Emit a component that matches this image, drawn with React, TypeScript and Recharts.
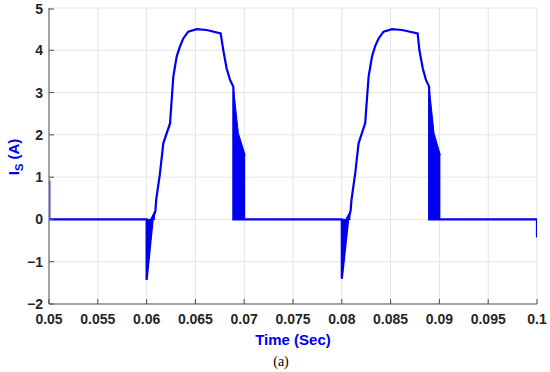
import React from "react";
import { ComposedChart, Line, Area, XAxis, YAxis, CartesianGrid, Label } from "recharts";

// time (s), source current (A)
const firstCycle: [number, number][] = [
  [0.05003, 0.92], [0.05003, 0], [0.06, 0], [0.06, -1.43], [0.06062, 0], [0.0609, 0.2],
  [0.06098, 0.46], [0.06137, 1.09], [0.06171, 1.8], [0.0624, 2.27], [0.06257, 2.83],
  [0.06274, 3.38], [0.06308, 3.85], [0.06342, 4.09], [0.06376, 4.28], [0.06427, 4.44],
  [0.06513, 4.5], [0.06616, 4.48], [0.06759, 4.4], [0.06786, 4.0], [0.0682, 3.57],
  [0.06855, 3.3], [0.06889, 3.14], [0.06889, 0],
];

const secondCycle: [number, number][] = [
  [0.08, 0], [0.08, -1.4], [0.08065, 0], [0.0809, 0.2], [0.08099, 0.46],
  [0.08138, 1.1], [0.08172, 1.8], [0.0824, 2.28], [0.08257, 2.83], [0.08275, 3.38],
  [0.08309, 3.85], [0.08342, 4.1], [0.08377, 4.28], [0.08428, 4.44], [0.08515, 4.5],
  [0.08617, 4.48], [0.08777, 4.4], [0.08795, 4.0], [0.0883, 3.57], [0.08862, 3.3],
  [0.08895, 3.14], [0.08895, 0], [0.1, 0], [0.1, -0.43],
];

// switching envelopes: time, [low, high]
const spikeOne: [number, [number, number]][] = [[0.06, [-1.43, 0]], [0.06062, [0, 0]]];
const rippleOne: [number, [number, number]][] = [[0.0604, [0, 0]], [0.06085, [0, 0.2]]];
const chopOne: [number, [number, number]][] = [[0.06889, [0, 3.14]], [0.0694, [0, 2.04]], [0.0701, [0, 1.52]]];
const spikeTwo: [number, [number, number]][] = [[0.08, [-1.4, 0]], [0.08065, [0, 0]]];
const rippleTwo: [number, [number, number]][] = [[0.0804, [0, 0]], [0.08088, [0, 0.2]]];
const chopTwo: [number, [number, number]][] = [[0.08895, [0, 3.14]], [0.08945, [0, 2.04]], [0.0901, [0, 1.52]]];

const timeTicks = [0.05, 0.055, 0.06, 0.065, 0.07, 0.075, 0.08, 0.085, 0.09, 0.095, 0.1];
const currentTicks = [-2, -1, 0, 1, 2, 3, 4, 5];

const BLUE = "#0000f0";
const TEXT = "#262626";

const trace = [...firstCycle, [0.07, 0] as [number, number], ...secondCycle].map(([t, v]) => ({ t, v }));
const bands = [spikeOne, rippleOne, chopOne, spikeTwo, rippleTwo, chopTwo].map((b) =>
  b.map(([t, r]) => ({ t, r }))
);

const BottomTick = (props: any) => {
  const { x, y, payload } = props;
  return (
    <g>
      <line x1={x} x2={x} y1={y} y2={y - 5} stroke="#4d4d4d" />
      <text x={x} y={y + 20} textAnchor="middle" fill={TEXT} fontSize={14} fontWeight="bold"
        fontFamily="'Liberation Sans', Arial, sans-serif">{String(payload.value)}</text>
    </g>
  );
};

const LeftTick = (props: any) => {
  const { x, y, payload } = props;
  return (
    <g>
      <line x1={x} x2={x + 5} y1={y} y2={y} stroke="#4d4d4d" />
      <text x={x - 6} y={y + 5} textAnchor="end" fill={TEXT} fontSize={14} fontWeight="bold"
        fontFamily="'Liberation Sans', Arial, sans-serif">{payload.value < 0 ? "\u2212" + Math.abs(payload.value) : payload.value}</text>
    </g>
  );
};

const TopTick = (props: any) => {
  const { x, y } = props;
  return <line x1={x} x2={x} y1={y} y2={y + 5} stroke="#4d4d4d" />;
};

const RightTick = (props: any) => {
  const { x, y } = props;
  return <line x1={x} x2={x - 5} y1={y} y2={y} stroke="#4d4d4d" />;
};

export default function App() {
  return (
    <div style={{ position: "absolute", left: 0, top: 0, width: 550, height: 372, background: "#fff" }}>
      <ComposedChart width={550} height={372} margin={{ top: 8, right: 13, left: 0, bottom: 0 }}>
        <CartesianGrid stroke="#e4e4e4" strokeWidth={1} />
        <XAxis xAxisId={0} dataKey="t" type="number" domain={[0.05, 0.1]} ticks={timeTicks}
          allowDataOverflow height={68} tickSize={0} tickMargin={0} tick={<BottomTick />}
          axisLine={{ stroke: "#8a8a8a", strokeWidth: 1.5 }} tickLine={false}>
          <Label content={(p: any) => {
            const vb = p.viewBox;
            return (
              <text x={vb.x + vb.width / 2} y={vb.y + 41} textAnchor="middle" fill={BLUE}
                fontSize={15} fontWeight="bold" fontFamily="'Liberation Sans', Arial, sans-serif">Time (Sec)</text>
            );
          }} />
          <Label content={(p: any) => {
            const vb = p.viewBox;
            return (
              <text x={vb.x + vb.width / 2 - 12} y={vb.y + 62} textAnchor="middle" fill="#000"
                fontSize={14} fontFamily="'Liberation Serif', 'Times New Roman', serif">(a)</text>
            );
          }} />
        </XAxis>
        <XAxis xAxisId="top" orientation="top" dataKey="t" type="number" domain={[0.05, 0.1]}
          ticks={timeTicks} allowDataOverflow height={0} tickSize={0} tickMargin={0} tick={<TopTick />}
          axisLine={{ stroke: "#a6a6a6", strokeWidth: 1 }} tickLine={false} />
        <YAxis yAxisId={0} type="number" domain={[-2, 5]} ticks={currentTicks} allowDataOverflow
          width={49} tickSize={0} tickMargin={0} tick={<LeftTick />}
          axisLine={{ stroke: "#8a8a8a", strokeWidth: 1.5 }} tickLine={false}>
          <Label content={() => (
            <text x={19} y={157} transform="rotate(-90, 19, 157)" textAnchor="middle" fill={BLUE}
              fontSize={15} fontWeight="bold" fontFamily="'Liberation Sans', Arial, sans-serif">
              <tspan>I</tspan>
              <tspan dy={4} fontSize={11}>S</tspan>
              <tspan dy={-4}> (A)</tspan>
            </text>
          )} />
        </YAxis>
        <YAxis yAxisId="right" orientation="right" type="number" domain={[-2, 5]} ticks={currentTicks}
          allowDataOverflow width={0} tickSize={0} tickMargin={0} tick={<RightTick />}
          axisLine={{ stroke: "#a6a6a6", strokeWidth: 1 }} tickLine={false} />
        {bands.map((band, i) => (
          <Area key={i} data={band} dataKey="r" type="linear" stroke={BLUE} strokeWidth={1}
            fill={BLUE} fillOpacity={1} isAnimationActive={false} dot={false} activeDot={false} />
        ))}
        <Line data={trace} dataKey="v" type="linear" stroke={BLUE} strokeWidth={2.2} dot={false}
          activeDot={false} isAnimationActive={false} />
      </ComposedChart>
    </div>
  );
}
